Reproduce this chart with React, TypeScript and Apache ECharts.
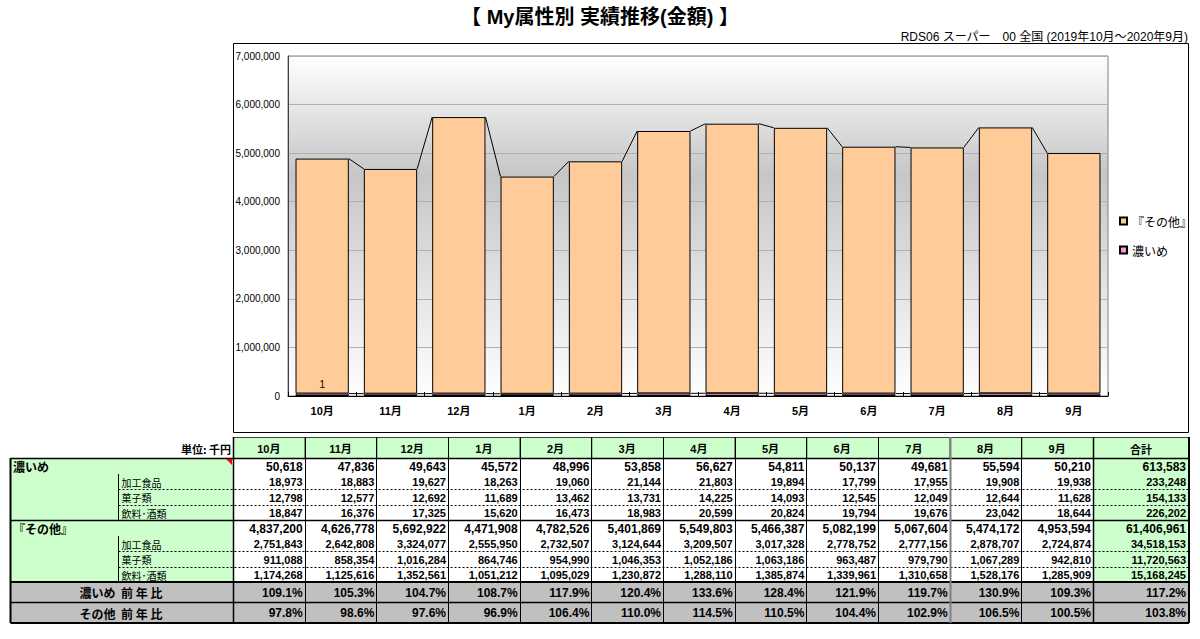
import React, { useEffect, useRef } from 'react';
import * as echarts from 'echarts';

// ---------- data ----------
const months = ['10月', '11月', '12月', '1月', '2月', '3月', '4月', '5月', '6月', '7月', '8月', '9月'];
const yTicks = [0, 1000000, 2000000, 3000000, 4000000, 5000000, 6000000, 7000000];

const koime = [50618, 47836, 49643, 45572, 48996, 53858, 56627, 54811, 50137, 49681, 55594, 50210];
const koimeKakou = [18973, 18883, 19627, 18263, 19060, 21144, 21803, 19894, 17799, 17955, 19908, 19938];
const koimeKashi = [12798, 12577, 12692, 11689, 13462, 13731, 14225, 14093, 12545, 12049, 12644, 11628];
const koimeInryo = [18847, 16376, 17325, 15620, 16473, 18983, 20599, 20824, 19794, 19676, 23042, 18644];

const sonota = [4837200, 4626778, 5692922, 4471908, 4782526, 5401869, 5549803, 5466387, 5082199, 5067604, 5474172, 4953594];
const sonotaKakou = [2751843, 2642808, 3324077, 2555950, 2732507, 3124644, 3209507, 3017328, 2778752, 2777156, 2878707, 2724874];
const sonotaKashi = [911088, 858354, 1016284, 864746, 954990, 1046353, 1052186, 1063186, 963487, 979790, 1067289, 942810];
const sonotaInryo = [1174268, 1125616, 1352561, 1051212, 1095029, 1230872, 1288110, 1385874, 1339961, 1310658, 1528176, 1285909];

const rowTotals = [613583, 233248, 154133, 226202, 61406961, 34518153, 11720563, 15168245];

const koimeYoY = [109.1, 105.3, 104.7, 108.7, 117.9, 120.4, 133.6, 128.4, 121.9, 119.7, 130.9, 109.3];
const koimeYoYTotal = 117.2;
const sonotaYoY = [97.8, 98.6, 97.6, 96.9, 106.4, 110.0, 114.5, 110.5, 104.4, 102.9, 106.5, 100.5];
const sonotaYoYTotal = 103.8;

const titleText = '【 My属性別 実績推移(金額) 】';
const subtitleText = 'RDS06 スーパー　00 全国 (2019年10月～2020年9月)';
const seriesNames = ['濃いめ', '『その他』'];
const rowLabels = ['濃いめ', '加工食品', '菓子類', '飲料･酒類', '『その他』', '加工食品', '菓子類', '飲料･酒類'];
const yoyLabels = ['濃いめ  前 年 比', 'その他  前 年 比'];
const unitLabel = '単位: 千円';
const totalLabel = '合計';
const barLabelText = '1';

// ---------- styles ----------
const MIX = '"Liberation Sans", Arial, "Noto Sans CJK JP", sans-serif';
const JP = '"Noto Sans CJK JP", sans-serif';
const GAP = 0.22;

const fmt = (v: number) => v.toLocaleString('en-US');

function seriesLineRender(params: any, api: any) {
  const i = api.value(0);
  const a = api.coord([i, api.value(1)]);
  const b = api.coord([i + 1, api.value(2)]);
  const half = (api.size([1, 0])[0] * (1 - GAP)) / 2;
  return {
    type: 'line',
    shape: { x1: a[0] + half, y1: a[1], x2: b[0] - half, y2: b[1] },
    style: { stroke: '#000', lineWidth: 1 },
  };
}

function buildTable(): any[] {
  const els: any[] = [];
  const L = 10.5;
  const C0 = 233;
  const TL = 1093;
  const TR = 1189;
  const CW = (TL - C0) / 12;
  const colL = (i: number) => C0 + i * CW;
  const rowY = [437, 458, 474, 489, 505, 520, 536, 551, 567, 582, 602, 623];
  const SUBX = 118.5;

  const rect = (x: number, y: number, w: number, h: number, fill: string, stroke = 'none', lw = 0) => ({
    type: 'rect', silent: true, z: 1, shape: { x, y, width: w, height: h }, style: { fill, stroke, lineWidth: lw },
  });
  const line = (x1: number, y1: number, x2: number, y2: number, lw = 1, color = '#000', dash?: any) => {
    const style: any = { stroke: color, lineWidth: lw };
    if (dash) style.lineDash = dash;
    return { type: 'line', silent: true, z: 5, shape: { x1, y1, x2, y2 }, style };
  };
  const text = (x: number, y: number, t: string, align: string, size: number, bold: boolean, family = MIX) => ({
    type: 'text', silent: true, z: 6, x, y,
    style: { text: t, align, verticalAlign: 'middle', fontSize: size, fontWeight: bold ? 'bold' : 'normal', fontFamily: family, fill: '#000' },
  });

  // backgrounds
  for (let i = 0; i < 12; i++) els.push(rect(colL(i) + 0.5, rowY[0] + 0.5, CW, rowY[1] - rowY[0], '#CCFFCC', '#404040', 1));
  els.push(rect(TL + 0.5, rowY[0] + 0.5, TR - TL, rowY[1] - rowY[0], '#CCFFCC', '#404040', 1));
  els.push(rect(L, rowY[1], C0 - L, rowY[9] - rowY[1], '#CCFFCC'));
  els.push(rect(TL, rowY[1], TR - TL, rowY[9] - rowY[1], '#CCFFCC'));
  els.push(rect(L, rowY[9], TR - L, rowY[11] - rowY[9], '#C0C0C0'));

  // dotted separators between sub rows
  for (const r of [3, 4, 7, 8]) els.push(line(SUBX, rowY[r] + 0.5, TR, rowY[r] + 0.5, 1, '#000', [2, 2]));

  // horizontal lines
  els.push(line(L, rowY[1] + 0.5, TR, rowY[1] + 0.5, 1.5));
  els.push(line(L, rowY[5] + 0.5, TR, rowY[5] + 0.5, 1.5));
  els.push(line(L, rowY[9], TR, rowY[9], 2));
  els.push(line(L, rowY[10] + 0.5, TR, rowY[10] + 0.5, 1.5));
  els.push(line(L, rowY[11], TR, rowY[11], 2));

  // vertical lines
  els.push(line(L, rowY[1], L, rowY[11], 2));
  els.push(line(TR, rowY[0], TR, rowY[11], 2));
  els.push(line(C0 + 0.5, rowY[0], C0 + 0.5, rowY[11], 1.5));
  for (let i = 1; i < 12; i++) {
    const x = Math.round(colL(i)) + 0.5;
    els.push(line(x, rowY[0], x, rowY[11], i === 10 ? 2 : 1, i === 10 ? '#808080' : '#000'));
  }
  els.push(line(TL + 0.5, rowY[0], TL + 0.5, rowY[11], 1.5));
  els.push(line(SUBX, rowY[2], SUBX, rowY[5], 1));
  els.push(line(SUBX, rowY[6], SUBX, rowY[9], 1));

  // comment marker
  els.push({ type: 'polygon', silent: true, z: 6, shape: { points: [[226, 459], [232, 459], [232, 465]] }, style: { fill: '#FF0000' } });

  // header
  els.push(text(231, (rowY[0] + rowY[1]) / 2 + 1, unitLabel, 'right', 11, true, JP));
  for (let i = 0; i < 12; i++) els.push(text(colL(i) + CW / 2, (rowY[0] + rowY[1]) / 2 + 1, months[i], 'center', 11, true));
  els.push(text((TL + TR) / 2, (rowY[0] + rowY[1]) / 2 + 1, totalLabel, 'center', 11, true, JP));

  // body rows
  const rowVals = [koime, koimeKakou, koimeKashi, koimeInryo, sonota, sonotaKakou, sonotaKashi, sonotaInryo];
  rowVals.forEach((vals, r) => {
    const isMain = r === 0 || r === 4;
    const cy = (rowY[r + 1] + rowY[r + 2]) / 2 + 0.5;
    if (isMain) els.push(text(13, cy, rowLabels[r], 'left', 12, true, JP));
    else els.push(text(SUBX + 3, cy, rowLabels[r], 'left', 10, false, JP));
    const size = isMain ? 12 : 11;
    vals.forEach((v, i) => els.push(text(colL(i + 1) - 2, cy, fmt(v), 'right', size, true)));
    els.push(text(TR - 3, cy, fmt(rowTotals[r]), 'right', size, true));
  });

  // yoy rows
  const yoy = [koimeYoY, sonotaYoY];
  const yoyT = [koimeYoYTotal, sonotaYoYTotal];
  yoy.forEach((vals, k) => {
    const cy = (rowY[9 + k] + rowY[10 + k]) / 2 + 0.5;
    els.push(text(121, cy, yoyLabels[k], 'center', 12, true, JP));
    vals.forEach((v, i) => els.push(text(colL(i + 1) - 2, cy, v.toFixed(1) + '%', 'right', 12, true)));
    els.push(text(TR - 3, cy, yoyT[k].toFixed(1) + '%', 'right', 12, true));
  });

  return els;
}

function buildOption(): any {
  const topLines = months.slice(0, -1).map((_, i) => [i, koime[i] + sonota[i], koime[i + 1] + sonota[i + 1]]);
  const bottomLines = months.slice(0, -1).map((_, i) => [i, koime[i], koime[i + 1]]);

  const graphics: any[] = [
    {
      type: 'rect', silent: true, z: -1,
      shape: { x: 233.5, y: 43.5, width: 955, height: 389 },
      style: { fill: 'none', stroke: '#000', lineWidth: 1 },
    },
    {
      type: 'text', silent: true, x: 600, y: 17,
      style: { text: titleText, align: 'center', verticalAlign: 'middle', fontSize: 20, fontWeight: 'bold', fontFamily: MIX, fill: '#000' },
    },
    {
      type: 'text', silent: true, x: 1188, y: 37,
      style: { text: subtitleText, align: 'right', verticalAlign: 'middle', fontSize: 12, fontFamily: MIX, fill: '#000' },
    },
    ...buildTable(),
  ];

  return {
    animation: false,
    backgroundColor: '#ffffff',
    textStyle: { fontFamily: MIX },
    grid: {
      left: 288, right: 92, top: 56, bottom: 243, show: true,
      backgroundColor: new echarts.graphic.LinearGradient(0, 0, 0, 1, [
        { offset: 0, color: '#ffffff' },
        { offset: 0.35, color: '#c6c6c6' },
        { offset: 1, color: '#ffffff' },
      ]),
      borderColor: '#808080', borderWidth: 1,
    },
    legend: {
      data: ['『その他』', '濃いめ'],
      orient: 'vertical', left: 1119, top: 215, padding: 0, itemGap: 17,
      itemWidth: 7, itemHeight: 7, icon: 'rect',
      textStyle: { fontSize: 12, color: '#000', fontFamily: JP },
    },
    xAxis: {
      type: 'category', data: months,
      axisLine: { lineStyle: { color: '#000' } },
      axisTick: { show: true, inside: true, length: 4, lineStyle: { color: '#000' } },
      axisLabel: { color: '#000', fontSize: 11, fontWeight: 'bold', margin: 9, fontFamily: MIX },
    },
    yAxis: {
      type: 'value', min: yTicks[0], max: yTicks[yTicks.length - 1], interval: yTicks[1] - yTicks[0],
      axisLine: { show: true, lineStyle: { color: '#404040' } },
      axisTick: { show: false },
      splitLine: { lineStyle: { color: '#b0b0b0' } },
      axisLabel: { color: '#000', fontSize: 10, margin: 8, fontFamily: MIX, formatter: (v: number) => fmt(v) },
    },
    series: [
      {
        name: seriesNames[0], type: 'bar', stack: 'total', barCategoryGap: GAP * 100 + '%',
        data: koime,
        itemStyle: { color: '#FF99CC', borderColor: '#000', borderWidth: 1 },
      },
      {
        name: seriesNames[1], type: 'bar', stack: 'total', barCategoryGap: GAP * 100 + '%',
        data: sonota.map((v, i) =>
          i === 0
            ? { value: v, label: { show: true, position: 'insideBottom', distance: 4, formatter: barLabelText, fontSize: 10, color: '#000' } }
            : v,
        ),
        itemStyle: { color: '#FFCC99', borderColor: '#000', borderWidth: 1 },
      },
      {
        name: 'lines-top', type: 'custom', renderItem: seriesLineRender, data: topLines,
        encode: { x: 0, y: [1, 2] }, silent: true, z: 3,
      },
      {
        name: 'lines-bottom', type: 'custom', renderItem: seriesLineRender, data: bottomLines,
        encode: { x: 0, y: [1, 2] }, silent: true, z: 3,
      },
    ],
    graphic: { elements: graphics },
  };
}

export default function App() {
  const ref = useRef<HTMLDivElement>(null);
  useEffect(() => {
    if (!ref.current) return;
    const chart = echarts.init(ref.current, null, { renderer: 'svg' });
    chart.setOption(buildOption());
    return () => chart.dispose();
  }, []);
  return (
    <div
      ref={ref}
      style={{ position: 'absolute', left: 0, top: 0, width: 1200, height: 639, background: '#fff' }}
    />
  );
}
